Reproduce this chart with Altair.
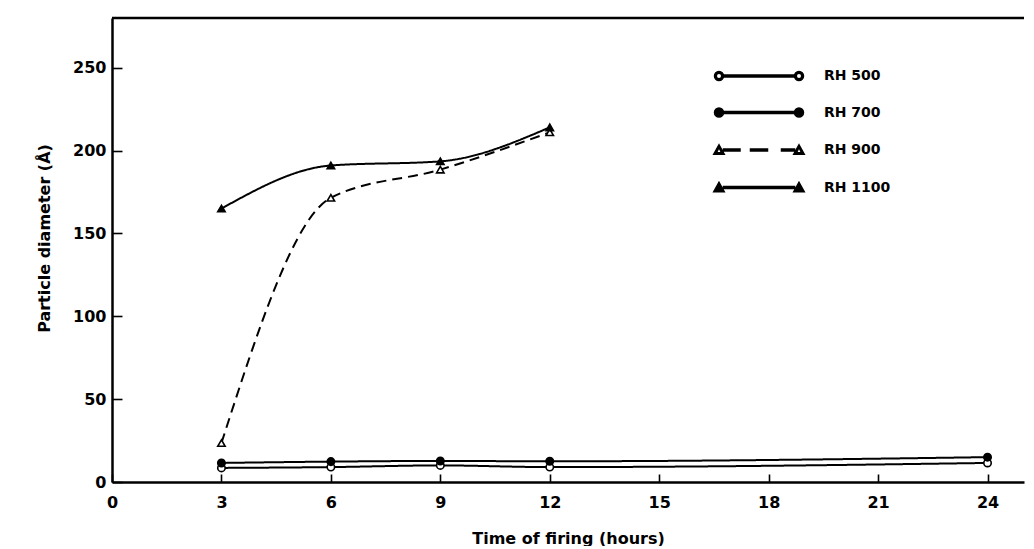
import altair as alt
import pandas as pd

# ---- data ----
series = ["RH 500", "RH 700", "RH 900", "RH 1100"]
hours_500 = [3, 6, 9, 12, 24]
rh500 = [8.5, 9, 10, 9, 11.5]
hours_700 = [3, 6, 9, 12, 24]
rh700 = [11.5, 12.3, 12.7, 12.5, 15]
hours_900 = [3, 6, 9, 12]
rh900 = [23.5, 171.5, 188.5, 211]
hours_1100 = [3, 6, 9, 12]
rh1100 = [165, 191, 193.5, 214]
x_ticks = [0, 3, 6, 9, 12, 15, 18, 21, 24]
y_ticks = [0, 50, 100, 150, 200, 250]

rows = []
for name, hs, vs in [("RH 500", hours_500, rh500), ("RH 700", hours_700, rh700),
                     ("RH 900", hours_900, rh900), ("RH 1100", hours_1100, rh1100)]:
    for h, v in zip(hs, vs):
        rows.append({"series": name, "hours": h, "diam": v})
df = pd.DataFrame(rows)
frame = pd.DataFrame({"hours": x_ticks[:1]})

FONT = "DejaVu Sans"
W, H = 912, 464

xscale = alt.Scale(domain=[0, 25], nice=False, zero=False)
yscale = alt.Scale(domain=[0, 280], nice=False)

# main axes: labels, domain line, title (no ticks)
yaxis = alt.Axis(values=y_ticks, ticks=False, tickSize=0, labelPadding=6, grid=False,
                 domainWidth=2.5, domainColor="black", labelColor="black",
                 labelFont=FONT, labelFontSize=16, labelFontWeight="bold",
                 title="Particle diameter (Å)", titleFont=FONT, titleFontSize=16,
                 titleFontWeight="bold", titleColor="black", titlePadding=20,
                 titleY=220)
xaxis = alt.Axis(values=x_ticks, ticks=False, tickSize=0, labelPadding=12, grid=False,
                 domainWidth=2.5, domainColor="black", labelColor="black",
                 labelFont=FONT, labelFontSize=16, labelFontWeight="bold", labelFlush=False,
                 title="Time of firing (hours)", titleFont=FONT, titleFontSize=16,
                 titleFontWeight="bold", titleColor="black", titlePadding=20)
# tick-only axes moved onto the opposite edge so their ticks point into the plot
xtickaxis = alt.Axis(orient="top", offset=-H, values=x_ticks, labels=False, domain=False,
                     grid=False, ticks=True, tickSize=8, tickWidth=1.6, tickColor="black",
                     title="")
ytickaxis = alt.Axis(orient="right", offset=-W, values=y_ticks, labels=False, domain=False,
                     grid=False, ticks=True, tickSize=10, tickWidth=1.6, tickColor="black",
                     title="")

# top frame line
topline = alt.Chart(frame).mark_rule(color="black", strokeWidth=2.5).encode(
    x=alt.value(0), x2=alt.value(W), y=alt.value(0))

lines = alt.Chart(df).mark_line(color="black", strokeWidth=2, interpolate="monotone").encode(
    x=alt.X("hours:Q", scale=xscale, axis=xaxis),
    y=alt.Y("diam:Q", scale=yscale, axis=yaxis),
    detail="series:N",
    strokeDash=alt.StrokeDash("series:N", legend=None,
                              scale=alt.Scale(domain=series, range=[[1, 0], [1, 0], [10, 6], [1, 0]])),
)

points = alt.Chart(df).mark_point(stroke="black", strokeWidth=1.6, size=55, opacity=1).encode(
    x=alt.X("hours:Q", scale=xscale, axis=xtickaxis),
    y=alt.Y("diam:Q", scale=yscale, axis=ytickaxis),
    shape=alt.Shape("series:N", legend=None,
                    scale=alt.Scale(domain=series, range=["circle", "circle", "triangle-up", "triangle-up"])),
    fill=alt.Fill("series:N", legend=None,
                  scale=alt.Scale(domain=series, range=["white", "black", "white", "black"])),
)


# legend symbols drawn as filled shapes only (custom path, 1 unit = 5px)
def circ(cx, r, sweep):
    return (f"M{cx - r},0 A{r},{r} 0 1,{sweep} {cx + r},0 "
            f"A{r},{r} 0 1,{sweep} {cx - r},0 Z")


def tri(cx, a, b, rev):
    if rev:
        return f"M{cx},{-a} L{cx - a},{b} L{cx + a},{b} Z"
    return f"M{cx},{-a} L{cx + a},{b} L{cx - a},{b} Z"


def bar(x0, x1, h=0.2):
    return f"M{x0},{-h} L{x1},{-h} L{x1},{h} L{x0},{h} Z"


R = 0.9
open_c = lambda cx: circ(cx, R, 1) + " " + circ(cx, 0.55, 0)
fill_c = lambda cx: circ(cx, R, 1)
open_t = lambda cx: tri(cx, 1.05, 0.85, False) + " " + tri(cx, 0.5, 0.55, True)
fill_t = lambda cx: tri(cx, 1.05, 0.85, False)
solid = bar(-8 + R, 8 - R)
dashed = bar(-7.1, -3.8) + " " + bar(-1.7, 1.7) + " " + bar(4.5, 7.1)
paths = [
    open_c(-8) + " " + open_c(8) + " " + solid,
    fill_c(-8) + " " + fill_c(8) + " " + solid,
    open_t(-8) + " " + open_t(8) + " " + dashed,
    fill_t(-8) + " " + fill_t(8) + " " + solid,
]

legend_layer = alt.Chart(df).mark_point(fill="black", stroke="black", strokeWidth=1.6,
                                        opacity=0, size=100).encode(
    x=alt.X("hours:Q", scale=xscale, axis=None),
    y=alt.Y("diam:Q", scale=yscale, axis=None),
    shape=alt.Shape("series:N", title=None,
                    scale=alt.Scale(domain=series, range=paths),
                    legend=alt.Legend(orient="none", legendX=640, legendY=51, padding=0,
                                      symbolSize=100, symbolFillColor="black",
                                      symbolOpacity=1, labelOffset=58, rowPadding=20.5,
                                      labelFont=FONT, labelFontSize=14, labelFontWeight="bold",
                                      labelColor="black")),
)

chart = alt.layer(topline, lines, points, legend_layer).resolve_scale(
    shape="independent"
).resolve_axis(
    x="independent", y="independent"
).properties(
    width=W, height=H,
    autosize=alt.AutoSizeParams(type="none"),
    padding={"left": 104, "top": 10, "right": 2, "bottom": 64},
    background="white",
).configure_view(stroke=None)

chart.save("out.html", embed_options={"renderer": "svg", "actions": False})
